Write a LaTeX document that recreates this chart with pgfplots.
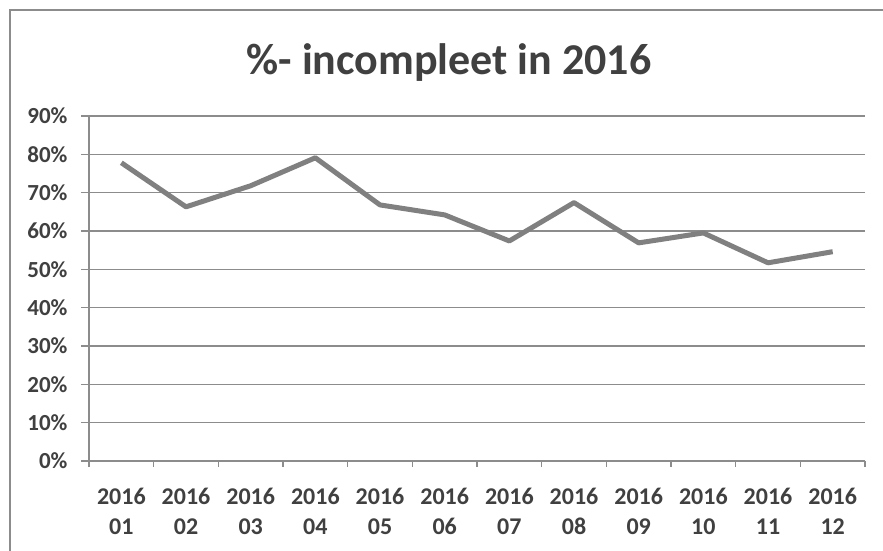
\documentclass[border=0pt]{standalone}
\usepackage{pgfplots}
\pgfplotsset{compat=1.18}
\usepackage{fontspec}
\setmainfont{Carlito}
\definecolor{txt}{HTML}{404040}
\definecolor{ln}{HTML}{808080}
\definecolor{grd}{HTML}{8C8C8C}
\begin{document}
\begin{tikzpicture}[x=1bp,y=1bp]
\useasboundingbox (0,0) rectangle (883,551);
\draw[grd, line width=1.2bp] (10,0) -- (10,541) -- (883,541);
\node[anchor=base, text=txt, font=\fontsize{44bp}{50bp}\selectfont\bfseries] at (449,476) {\%- incompleet in 2016};
\begin{axis}[
  at={(89bp,90bp)}, anchor=south west,
  width=776bp, height=345bp, scale only axis,
  xmin=0.5, xmax=12.5, ymin=0, ymax=90,
  axis x line=bottom, axis y line=left,
  axis line style={-, grd, line width=1.2bp},
  xtick={1,...,12},
  xticklabels={{2016\\01},{2016\\02},{2016\\03},{2016\\04},{2016\\05},{2016\\06},{2016\\07},{2016\\08},{2016\\09},{2016\\10},{2016\\11},{2016\\12}},
  major x tick style={draw=none},
  minor xtick={0.5,1.5,...,12.5},
  minor x tick style={grd, line width=1.2bp},
  minor tick length=6bp,
  ytick={0,10,...,90},
  yticklabels={0\%,10\%,20\%,30\%,40\%,50\%,60\%,70\%,80\%,90\%},
  major y tick style={grd, line width=1.2bp},
  major tick length=8bp,
  tick align=outside,
  ymajorgrids,
  grid style={grd, line width=1.2bp},
  xticklabel style={align=center, text=txt, font=\fontsize{24bp}{30bp}\selectfont\bfseries, yshift=-16bp},
  yticklabel style={text=txt, font=\fontsize{23bp}{25bp}\selectfont\bfseries, xshift=-10bp},
  clip=false,
]
\addplot[ln, line width=5bp, line join=round] coordinates {
(1,77.8) (2,66.3) (3,71.8) (4,79.1) (5,66.8) (6,64.2) (7,57.4) (8,67.4) (9,56.9) (10,59.5) (11,51.7) (12,54.6)
};
\end{axis}
\end{tikzpicture}
\end{document}
